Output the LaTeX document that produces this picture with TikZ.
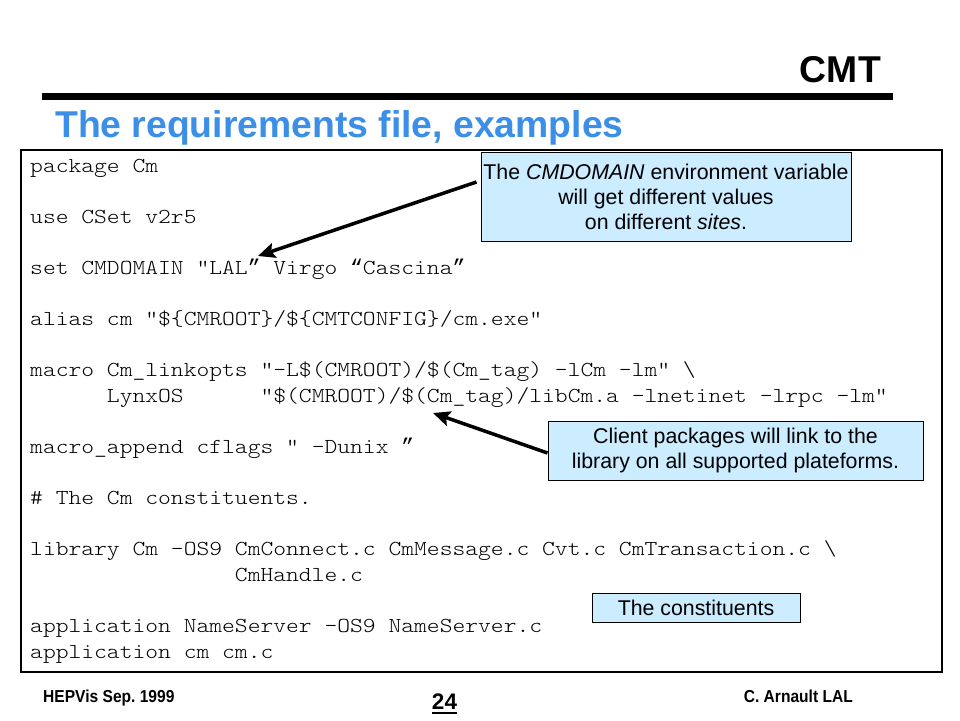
\documentclass[tikz,border=0pt]{standalone}
\usepackage{fontspec}
\setmainfont{Liberation Sans}
\setmonofont[FakeStretch=1.143]{Latin Modern Mono Light}
\newfontfamily\quotefont{Liberation Mono}
\newfontfamily\footfont[FakeStretch=0.9]{Liberation Sans}
\newcommand\myrq{{\quotefont ”}}
\newcommand\mylq{{\quotefont “}}
\usetikzlibrary{arrows.meta}
\definecolor{titleblue}{RGB}{59,143,230}
\definecolor{calloutfill}{RGB}{204,236,255}
\frenchspacing
\tikzset{
  codeline/.style={anchor=base west, inner sep=0pt, font=\fontsize{21.33}{25.6}\selectfont\ttfamily},
  callout/.style={draw=black, line width=1pt, fill=calloutfill, inner sep=0pt, align=center, font=\fontsize{21.33}{25}\selectfont},
  pointer/.style={line width=3.5pt, -{Stealth[length=17pt,width=15pt,inset=3pt]}},
  foot/.style={inner sep=0pt, font=\fontsize{17.3}{20}\selectfont\footfont\bfseries},
  heading/.style={inner sep=0pt, font=\fontsize{37.33}{40}\selectfont\bfseries},
}
\begin{document}
\begin{tikzpicture}[x=1pt,y=-1pt]
\fill[white] (0,0) rectangle (960,720);
\useasboundingbox (0,0) rectangle (960,720);

% header
\node[heading, anchor=base east] (cmt) at (881,82) {CMT};
\fill[black] (42,93) rectangle (893,100);
\node[heading, anchor=base west, text=titleblue] (title) at (55,137) {The requirements file, examples};

% code frame
\draw[line width=1.3pt] (21,150) rectangle (942,672);

% code lines
\node[codeline] (l0)  at (30,172.5) {package Cm};
\node[codeline] (l2)  at (30,223.6) {use CSet v2r5};
\node[codeline] (l4)  at (30,274.7) {set CMDOMAIN "LAL\myrq{} Virgo \mylq{}Cascina\myrq};
\node[codeline] (l6)  at (30,325.8) {alias cm "\$\{CMROOT\}/\$\{CMTCONFIG\}/cm.exe"};
\node[codeline] (l8)  at (30,376.9) {macro Cm\_linkopts "-L\$(CMROOT)/\$(Cm\_tag) -lCm -lm" \textbackslash};
\node[codeline] (l9)  at (30,402.5) {~~~~~~LynxOS~~~~~~"\$(CMROOT)/\$(Cm\_tag)/libCm.a -lnetinet -lrpc -lm"};
\node[codeline] (l11) at (30,453.6) {macro\_append cflags " -Dunix \myrq};
\node[codeline] (l13) at (30,504.7) {\# The Cm constituents.};
\node[codeline] (l15) at (30,555.8) {library Cm -OS9 CmConnect.c CmMessage.c Cvt.c CmTransaction.c \textbackslash};
\node[codeline] (l16) at (30,581.4) {~~~~~~~~~~~~~~~~CmHandle.c};
\node[codeline] (l18) at (30,632.5) {application NameServer -OS9 NameServer.c};
\node[codeline] (l19) at (30,658.1) {application cm cm.c};

% callouts
\node[callout, minimum width=370, minimum height=89] (c1) at (666,196.5)
  {The \textit{CMDOMAIN} environment variable\\will get different values\\on different \textit{sites}.};
\node[callout, minimum width=375, minimum height=59, font=\fontsize{21.33}{24.5}\selectfont] (c2) at (735.5,450.5)
  {Client packages will link to the\\library on all supported plateforms.};
\node[callout, minimum width=208, minimum height=29] (c3) at (696,607.5) {The constituents};

% pointers
\coordinate (t1) at (258,256);
\coordinate (t2) at (433,413);
\draw[pointer] ([xshift=-4pt,yshift=14.5pt]c1.west) -- (t1);
\draw[pointer] ([yshift=-2.5pt]c2.west) -- (t2);

% footer
\node[foot, anchor=base west] (f1) at (43,702) {HEPVis Sep. 1999};
\node[inner sep=0pt, anchor=base, font=\fontsize{22.5}{25}\selectfont\bfseries] (pg) at (444.5,709) {24};
\draw[line width=2pt] ([yshift=-3.5pt]pg.base west) -- ([yshift=-3.5pt]pg.base east);
\node[foot, anchor=base east] (f2) at (853,702) {C. Arnault LAL};
\end{tikzpicture}
\end{document}
